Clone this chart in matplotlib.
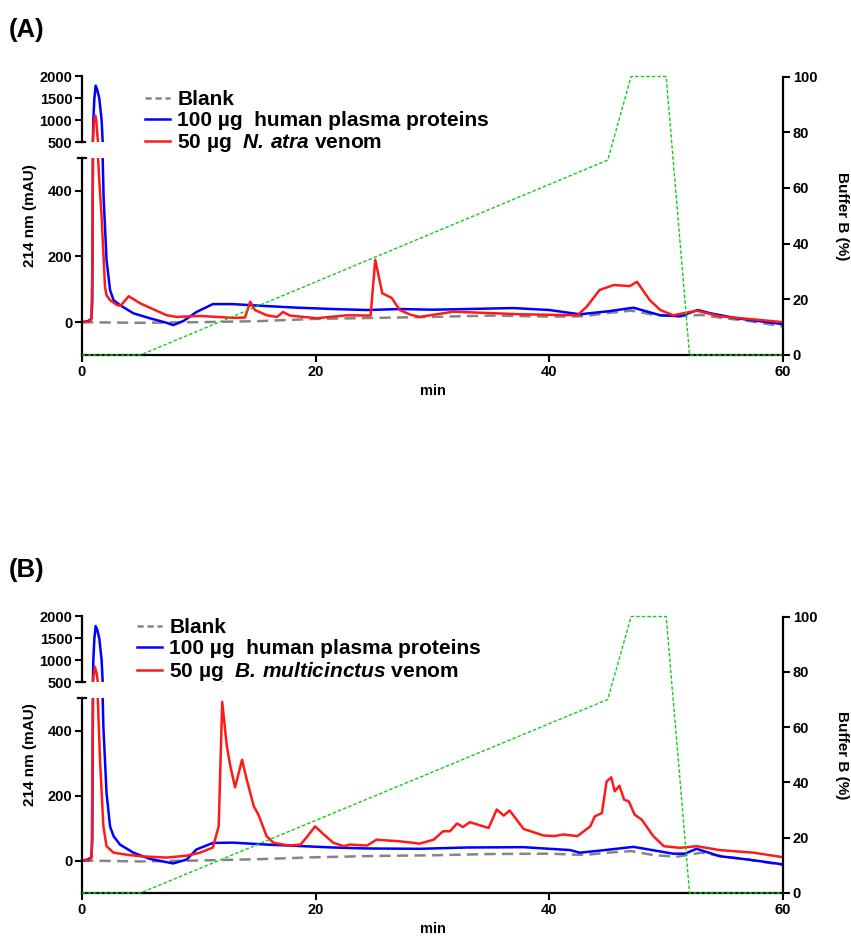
import numpy as np
import matplotlib
matplotlib.use('Agg')
import matplotlib.pyplot as plt
from matplotlib.lines import Line2D

plt.rcParams['font.family'] = ['Liberation Sans', 'DejaVu Sans']
plt.rcParams['font.weight'] = 'bold'
plt.rcParams['mathtext.fontset'] = 'custom'
plt.rcParams['mathtext.bfit'] = 'Liberation Sans:italic:bold'
plt.rcParams['mathtext.it'] = 'Liberation Sans:italic:bold'

# ---- data ----
# buffer B gradient (both panels)
grad_t = [0, 5, 45, 47, 50, 52, 60]
grad_b = [0, 0, 70, 100, 100, 0, 0]

# panel A
blankA_t = [0, 5, 10, 15, 20, 25, 30, 35, 40, 43, 45, 47, 49, 51, 53, 55, 57, 60]
blankA_v = [0, -2, 0, 3, 10, 13, 16, 20, 17, 18, 28, 35, 22, 18, 22, 12, 4, -13]

blueA_t = [0, 0.5, 0.8, 0.88, 0.92, 0.97, 1.06, 1.17, 1.3, 1.48, 1.68, 1.77, 1.85, 2.1, 2.4,
           2.7, 3.25, 4.4, 5.8, 7.25, 7.8, 8.7, 9.8, 11.2, 12.9, 15.8, 18.5, 21.5, 24.4, 27.2,
           30, 33, 36.9, 40, 42.6, 45, 47.2, 49.5, 51.2, 52.7, 53.8, 56, 58, 60]
blueA_v = [0, 3, 10, 60, 400, 1000, 1500, 1790, 1700, 1500, 1000, 500, 380, 190, 98,
           67, 52, 27, 12, -2, -9, 4, 31, 55, 55, 49, 44, 40, 37, 40,
           38, 40, 43, 37, 24, 33, 44, 21, 18, 37, 27, 12, 3, -6]

redA_t = [0, 0.6, 0.8, 0.88, 0.94, 1.0, 1.12, 1.22, 1.3, 1.37, 1.5, 1.68, 1.97, 2.1, 2.4,
          3.0, 3.3, 4.0, 5.0, 7.25, 8.1, 10.1, 12.95, 13.95, 14.4, 14.8, 15.8, 16.7, 17.2,
          17.8, 20.1, 22.7, 24.7, 25.1, 25.7, 26.5, 27.2, 28.1, 28.9, 31.8, 37.5, 42.4,
          43.2, 44.3, 45.5, 46.9, 47.5, 48.6, 49.5, 50.6, 52.6, 54.6, 57, 60]
redA_v = [0, 2, 8, 150, 500, 900, 1110, 1000, 700, 500, 420, 320, 107, 82, 67,
          52, 50, 79, 57, 21, 16, 19, 13, 14, 62, 37, 21, 16, 31,
          20, 12, 21, 20, 190, 88, 74, 37, 23, 16, 32, 24, 21,
          47, 98, 113, 110, 123, 67, 37, 21, 35, 18, 10, 0]

# panel B
blankB_t = [0, 5, 10, 15, 20, 25, 30, 35, 40, 43, 45, 47, 49, 51, 53, 55, 57, 60]
blankB_v = [0, -3, 0, 4, 10, 14, 16, 20, 21, 17, 24, 29, 16, 12, 24, 12, 3, -14]

blueB_t = [0, 0.5, 0.8, 0.88, 0.92, 0.97, 1.06, 1.17, 1.3, 1.48, 1.68, 1.77, 1.83, 2.1, 2.4,
           2.7, 3.25, 4.4, 5.8, 7.8, 8.96, 9.8, 11.2, 12.9, 15.8, 21.5, 24.4, 28.9, 33,
           37.8, 41.8, 42.6, 45, 47.2, 50.6, 51.6, 52.6, 54.6, 57, 60]
blueB_v = [0, 3, 10, 60, 400, 1000, 1500, 1780, 1700, 1500, 1000, 500, 412, 208, 105,
           75, 49, 24, 5, -9, 3, 34, 54, 55, 49, 40, 37, 36, 40,
           41, 32, 24, 33, 42, 21, 21, 36, 13, 3, -12]

redB_t = [0, 0.6, 0.83, 0.9, 0.97, 1.1, 1.25, 1.35, 1.54, 1.83, 2.1, 2.7, 3.8, 5, 7.25,
          8.96, 10.1, 11.2, 11.7, 12.0, 12.4, 12.7, 13.1, 13.7, 14.1, 14.7, 15.1, 15.8,
          16.4, 17.8, 18.7, 19.2, 19.95, 20.7, 21.5, 22.4, 22.9, 24.4, 25.2, 27.2, 28.9,
          30.1, 30.9, 31.5, 32.1, 32.6, 33.2, 34.8, 35.5, 36.1, 36.6, 37.8, 39.5, 40.4,
          41.2, 42.4, 43.5, 43.9, 44.5, 44.9, 45.3, 45.6, 46.0, 46.4, 46.8, 47.3, 47.9,
          48.9, 49.8, 51.2, 52.6, 54.6, 57.5, 60]
redB_v = [0, 0, 10, 300, 600, 850, 700, 500, 310, 105, 44, 24, 18, 13, 9,
          15, 24, 40, 105, 488, 351, 290, 225, 310, 249, 167, 141, 75,
          54, 46, 49, 70, 105, 80, 55, 44, 49, 46, 64, 59, 52,
          64, 90, 90, 114, 103, 118, 100, 157, 138, 154, 97, 77, 75,
          80, 75, 105, 136, 146, 243, 256, 213, 230, 187, 182, 141, 126,
          75, 44, 39, 44, 32, 24, 10]

labels_A = ['Blank', '100 µg  human plasma proteins', r'50 µg  $\mathbfit{N.\,atra}$ venom']
labels_B = ['Blank', '100 µg  human plasma proteins', r'50 µg  $\mathbfit{B.\,multicinctus}$ venom']

W, H = 851, 942
fig = plt.figure(figsize=(W / 100, H / 100), dpi=100)


def fx(px):
    return px / W


def fy(py):
    return 1 - py / H


def style(ax):
    ax.tick_params(width=1.5, length=5, labelsize=10.5, pad=2)
    for lbl in ax.get_xticklabels() + ax.get_yticklabels():
        lbl.set_fontweight('bold')


def panel(top, brk1, brk2, bottom, series, labels, tag, leg_xy):
    left, right = 82, 783
    # upper (500-2000) part
    ax_up = fig.add_axes([fx(left), fy(brk1), fx(right - left), (brk1 - top) / H])
    ax_low = fig.add_axes([fx(left), fy(bottom), fx(right - left), (bottom - brk2) / H])
    ax_g = fig.add_axes([fx(left), fy(bottom), fx(right - left), (bottom - top) / H])

    (bt, bv), (ut, uv), (rt, rv) = series
    for ax in (ax_up, ax_low):
        ax.plot(bt, bv, color='#858585', lw=1.8, ls=(0, (4.5, 2.5)))
        ax.plot(ut, uv, color='#0000ff', lw=1.8)
        ax.plot(rt, rv, color='#ff1a1a', lw=1.8)
        ax.set_xlim(0, 60)
        ax.spines['top'].set_visible(False)
        ax.spines['right'].set_visible(False)
        ax.spines['left'].set_linewidth(1.6)
        ax.spines['bottom'].set_linewidth(1.6)
        ax.patch.set_visible(False)

    ax_up.set_ylim(500, 2000)
    ax_up.set_yticks([500, 1000, 1500, 2000])
    ax_up.spines['bottom'].set_visible(False)
    ax_up.tick_params(axis='x', bottom=False, labelbottom=False)
    ax_low.set_ylim(-100, 500)
    ax_low.set_yticks([0, 200, 400])
    ax_low.set_xticks([0, 20, 40, 60])
    ax_low.set_xlabel('min', fontsize=10.5, fontweight='bold', labelpad=4)
    style(ax_up)
    style(ax_low)

    # break marks
    ax_up.plot([-0.007, 0.004], [0, 0], transform=ax_up.transAxes, color='k', lw=1.6, clip_on=False)
    ax_low.plot([-0.006, 0.006], [1, 1], transform=ax_low.transAxes, color='k', lw=1.6, clip_on=False)

    # buffer B gradient, right axis
    ax_g.plot(grad_t, grad_b, color='#11cc11', lw=1.0, ls=(0, (2.5, 1.5)), clip_on=False)
    ax_g.set_xlim(0, 60)
    ax_g.set_ylim(0, 100)
    ax_g.patch.set_visible(False)
    for s in ('top', 'left', 'bottom'):
        ax_g.spines[s].set_visible(False)
    ax_g.spines['right'].set_linewidth(1.6)
    ax_g.yaxis.tick_right()
    ax_g.set_yticks([0, 20, 40, 60, 80, 100])
    ax_g.tick_params(axis='x', bottom=False, labelbottom=False)
    style(ax_g)

    fig.text(fx(30), fy((top + bottom) / 2), '214 nm (mAU)', rotation=90, ha='center',
             va='center', fontsize=11, fontweight='bold')
    fig.text(fx(842), fy((top + bottom) / 2), 'Buffer B (%)', rotation=270, ha='center',
             va='center', fontsize=11, fontweight='bold')
    fig.text(fx(9), fy(top - 46), tag, ha='left', va='center', fontsize=18.5, fontweight='bold')

    handles = [Line2D([], [], color='#858585', lw=1.8, ls=(0, (2.5, 1.5))),
               Line2D([], [], color='#0000ff', lw=1.8),
               Line2D([], [], color='#ff1a1a', lw=1.8)]
    ax_low.legend(handles, labels, loc='upper left', bbox_to_anchor=(fx(leg_xy[0]), fy(leg_xy[1])),
                  bbox_transform=fig.transFigure, frameon=False, borderpad=0, borderaxespad=0,
                  handlelength=1.2, handletextpad=0.35, labelspacing=0.1,
                  prop={'size': 15, 'weight': 'bold'})


panel(76.5, 142, 158, 355,
      [(blankA_t, blankA_v), (blueA_t, blueA_v), (redA_t, redA_v)], labels_A, '(A)', (145, 90))
panel(616.5, 682, 698, 893,
      [(blankB_t, blankB_v), (blueB_t, blueB_v), (redB_t, redB_v)], labels_B, '(B)', (137, 618))

fig.savefig('out.png', dpi=100)
